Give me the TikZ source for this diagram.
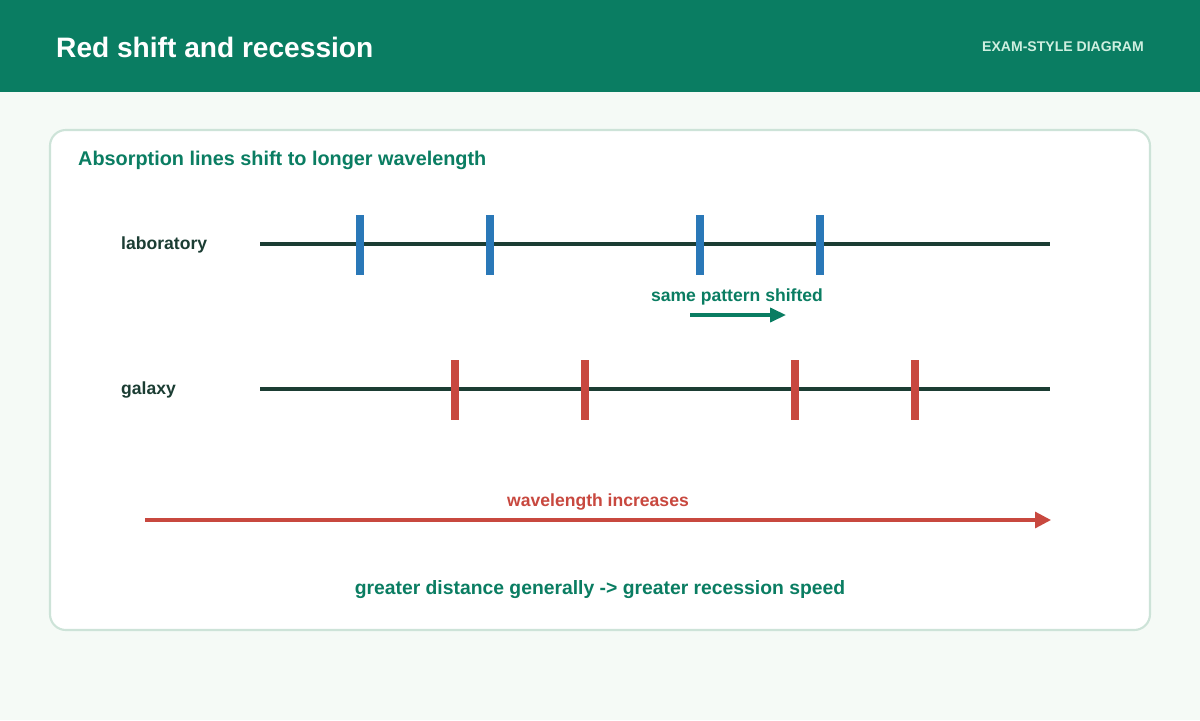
\documentclass[tikz,border=0pt]{standalone}
\usepackage{fontspec}
\setmainfont{Liberation Sans}
\usetikzlibrary{arrows.meta}
\definecolor{hdr}{HTML}{0A7D62}
\definecolor{bg}{HTML}{F5FAF6}
\definecolor{edge}{HTML}{CDE3D8}
\definecolor{ink}{HTML}{1B3D33}
\definecolor{labblue}{HTML}{2A78B8}
\definecolor{galred}{HTML}{C8483F}
\definecolor{pale}{HTML}{CFEFE0}
\begin{document}
\begin{tikzpicture}[x=0.02cm,y=-0.02cm,
    spectrum/.style={draw=ink,line width=2.8pt},
    labline/.style={draw=labblue,line width=4.5pt},
    galline/.style={draw=galred,line width=4.5pt},
    rowlabel/.style={anchor=west,text=ink,font=\bfseries\fontsize{10}{12}\selectfont}]
    \fill[bg] (0,0) rectangle (1200,720);
    \fill[hdr] (0,0) rectangle (1200,92);
    \node (title)[anchor=west,text=white,font=\bfseries\fontsize{16}{19}\selectfont]
        at (50,47) {Red shift and recession};
    \node (tag)[anchor=east,text=pale,font=\bfseries\fontsize{8}{10}\selectfont]
        at (1150,47) {EXAM-STYLE DIAGRAM};
    \draw[edge,fill=white,line width=1.2pt,rounded corners=9pt] (50,130) rectangle (1150,630);
    \node (card)[anchor=west,text=hdr,font=\bfseries\fontsize{11.3}{14}\selectfont]
        at (72,160) {Absorption lines shift to longer wavelength};

    \node (lab)[rowlabel] at (115,245) {laboratory};
    \node (gal)[rowlabel] at (115,390) {galaxy};
    \coordinate (labL) at (260,244); \coordinate (labR) at (1050,244);
    \coordinate (galL) at (260,389); \coordinate (galR) at (1050,389);
    \draw[spectrum] (labL) -- (labR);
    \draw[spectrum] (galL) -- (galR);
    \foreach \x in {360,490,700,820}
        \draw[labline] (\x,215) -- (\x,275);
    \foreach \x in {455,585,795,915}
        \draw[galline] (\x,360) -- (\x,420);

    \node (shift)[text=hdr,font=\bfseries\fontsize{10}{12}\selectfont]
        at (737,297) {same pattern shifted};
    \coordinate (s1) at (690,315); \coordinate (s2) at (786,315);
    \draw[hdr,line width=1.8pt,-{Triangle[length=9pt,width=8pt]}] (s1) -- (s2);

    \node (wave)[text=galred,font=\bfseries\fontsize{10}{12}\selectfont]
        at (598,502) {wavelength increases};
    \coordinate (w1) at (145,520); \coordinate (w2) at (1051,520);
    \draw[galred,line width=1.8pt,-{Triangle[length=9pt,width=9pt]}] (w1) -- (w2);

    \node (speed)[text=hdr,font=\bfseries\fontsize{11}{13}\selectfont]
        at (600,590) {greater distance generally -> greater recession speed};
\end{tikzpicture}
\end{document}
